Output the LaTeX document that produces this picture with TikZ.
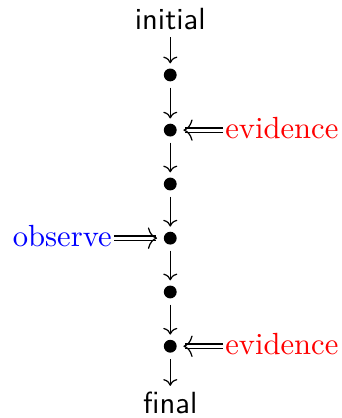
\documentclass[tikz,border=0pt]{standalone}
\usepackage{xcolor}
\usepackage{tikz}
\usetikzlibrary{arrows.meta,decorations.markings}

\begin{document}
\begin{tikzpicture}[line width=0.4pt,
  blob/.style={circle,fill=black,inner sep=0pt,minimum size=4.2pt,outer sep=0pt},
  down/.style={-{Computer Modern Rightarrow[width=4.6pt,length=2.2pt]},shorten <=2pt,shorten >=1.7pt},
  dbl/.style={double,double distance=1pt,shorten >=2.6pt,
    decoration={markings,mark=at position -2.2pt with {\arrow[line width=0.4pt]{Computer Modern Rightarrow[width=7pt,length=3pt]}}},
    postaction={decorate}},
  txt/.style={inner sep=0pt}]
  \useasboundingbox (0,0) rectangle (3.92,-4.80);
  \node[txt,anchor=base,font=\sffamily] (init) at (1.955,-0.344){initial};
  \node[blob] (d1) at (1.955,-0.861){};
  \node[blob] (d2) at (1.955,-1.494){};
  \node[blob] (d3) at (1.955,-2.113){};
  \node[blob] (d4) at (1.955,-2.735){};
  \node[blob] (d5) at (1.955,-3.353){};
  \node[blob] (d6) at (1.955,-3.976){};
  \node[txt,anchor=base,font=\sffamily] (fin) at (1.955,-4.745){final};
  \node[txt,anchor=base west,text=red] (ev1) at (2.58,-1.586){evidence};
  \node[txt,anchor=base west,text=red] (ev2) at (2.58,-4.068){evidence};
  \node[txt,anchor=base east,text=blue] (obs) at (1.29,-2.827){observe};
  \draw[down] (init) -- (d1); \draw[down] (d1) -- (d2); \draw[down] (d2) -- (d3);
  \draw[down] (d3) -- (d4); \draw[down] (d4) -- (d5); \draw[down] (d5) -- (d6);
  \draw[down] (d6) -- (fin);
  \draw[dbl] ([xshift=-0.5pt]ev1.west |- d2) -- (d2.east);
  \draw[dbl] ([xshift=-0.5pt]ev2.west |- d6) -- (d6.east);
  \draw[dbl] ([xshift=0.5pt]obs.east |- d4) -- (d4.west);
\end{tikzpicture}
\end{document}
